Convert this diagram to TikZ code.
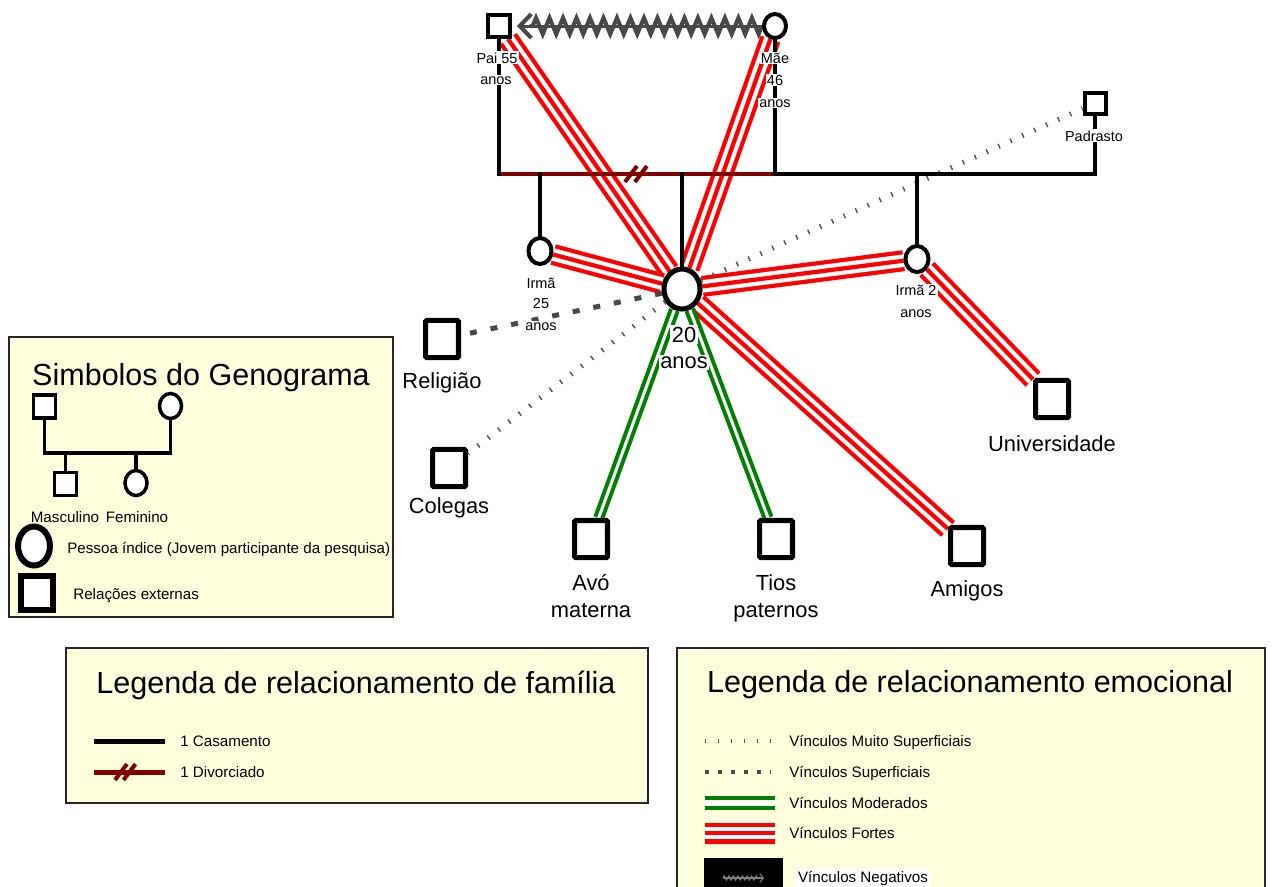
\documentclass[tikz,border=0pt]{standalone}
\usepackage{fontspec}
\setmainfont{Liberation Sans}
\usetikzlibrary{shapes.geometric,arrows.meta,decorations.pathmorphing}
\pgfdeclarelayer{bg}
\pgfdeclarelayer{links}
\pgfsetlayers{bg,links,main}
\definecolor{maroon}{RGB}{128,0,0}
\definecolor{mgreen}{RGB}{0,128,0}
\definecolor{negray}{RGB}{72,72,72}
\definecolor{dotgray}{RGB}{80,80,80}
\definecolor{cream}{RGB}{255,255,221}
\newcommand\ftitle{\fontsize{17.3}{20}\selectfont}
\newcommand\fext{\fontsize{12.4}{15}\selectfont}
\newcommand\fsmall{\fontsize{8.2}{10}\selectfont}
\newcommand\fleg{\fontsize{8.6}{10}\selectfont}
\begin{document}
\begin{tikzpicture}[x=0.567pt,y=-0.567pt,
  person/.style={draw, fill=white, inner sep=0pt, line width=2.27pt},
  male/.style={person, rectangle, minimum width=12.47pt, minimum height=12.47pt},
  female/.style={person, ellipse, minimum width=12.47pt, minimum height=13.6pt},
  sister/.style={person, ellipse, minimum width=13.04pt, minimum height=14.74pt},
  idxnode/.style={person, ellipse, line width=2.84pt, minimum width=20.4pt, minimum height=22.7pt},
  ext/.style={person, rectangle, line width=2.84pt, rounded corners=0.6pt, minimum width=18.7pt, minimum height=21pt},
  lbl/.style={font=\fsmall, fill=white, inner sep=0.6pt, anchor=base},
  extlbl/.style={font=\fext, anchor=base, inner sep=0.8pt},
  legtxt/.style={font=\fleg, anchor=base west, inner sep=0pt},
  legbox/.style={fill=cream, draw=black!85, line width=0.8pt},
  strong/.style={draw=red, line width=11.9pt,
    postaction={draw=white, line width=7.1pt},
    postaction={draw=red, line width=2.4pt}},
  moderate/.style={draw=mgreen, line width=2.27pt, double=white, double distance=1.7pt},
  superf/.style={draw=negray, line width=2.84pt, dash pattern=on 3.97pt off 7.94pt},
  vsuperf/.style={draw=dotgray, line width=2.84pt, dash pattern=on 0.8pt off 6.6pt},
  fam/.style={draw=black, line width=1.98pt, line cap=rect},
  divorce/.style={draw=maroon, line width=2.27pt},
  divhash/.style={draw=maroon, line width=2.27pt},
  negline/.style={draw=negray, line width=1.7pt,
    -{Straight Barb[length=6.5pt, width=13.6pt, line width=2.3pt]}},
  negzig/.style={draw=negray, line width=2.3pt, decorate,
    decoration={zigzag, amplitude=4.6pt, segment length=7.65pt}},
  lmale/.style={person, rectangle, line width=1.98pt, minimum width=12.2pt, minimum height=13.3pt},
  lfemale/.style={person, ellipse, line width=1.98pt, minimum width=12.5pt, minimum height=14.2pt},
  lfam/.style={draw=black, line width=2.1pt, line cap=rect}
]
\useasboundingbox (0,0) rectangle (1272,886);
\begin{pgfonlayer}{bg}
  \fill[white] (0,0) rectangle (1272,886);
\end{pgfonlayer}

% ---------- legend boxes ----------
\draw[legbox] (9,337) rectangle (393,617);
\draw[legbox] (66,648) rectangle (648,803);
\draw[legbox] (677,648) rectangle (1265,895);
\node[anchor=base, font=\ftitle] (symtitle) at (201,385) {Simbolos do Genograma};
\node[anchor=base, font=\ftitle] (famtitle) at (356,693) {Legenda de relacionamento de família};
\node[anchor=base, font=\ftitle] (emotitle) at (970,692) {Legenda de relacionamento emocional};

% ---------- genogram persons ----------
\node[male] (pai) at (499,26) {};
\node[female] (mae) at (775,26) {};
\node[male, minimum width=11.9pt, minimum height=11.9pt] (padr) at (1095,103) {};
\node[sister] (irma25) at (540,251) {};
\node[sister] (irma2) at (917,259) {};
\node[idxnode] (idx) at (682,289) {};
\node[ext] (relig) at (442,339) {};
\node[ext] (coleg) at (449,468) {};
\node[ext] (avo) at (591,539) {};
\node[ext] (tios) at (776,539) {};
\node[ext] (amigos) at (967,546) {};
\node[ext] (univ) at (1052,399) {};

\coordinate (mpai) at (499,174);
\coordinate (mmae) at (775,174);
\coordinate (mpad) at (1095,174);
\coordinate (negtip) at (517,26);
\coordinate (negend) at (530,26);

\begin{pgfonlayer}{links}
  % emotional bonds
  \draw[strong] (idx) -- (pai);
  \draw[strong] (idx) -- (mae);
  \draw[strong] (idx) -- (irma25);
  \draw[strong] (idx) -- (irma2);
  \draw[strong] (idx) -- (amigos);
  \draw[strong] (irma2) -- (univ);
  \draw[moderate] (idx) -- (avo);
  \draw[moderate] (idx) -- (tios);
  \draw[superf] (idx) -- (relig);
  \draw[vsuperf] (idx) -- (coleg);
  \draw[vsuperf] (idx) -- (padr);
  \draw[negline] (mae) -- (negtip);
  \draw[negzig] (mae.west) -- (negend);
  % family lines
  \draw[divorce] (mpai) -- (mmae);
  \path (mpai) -- (mmae) coordinate[pos=0.478] (cut1) coordinate[pos=0.514] (cut2);
  \draw[divhash] ([shift={(-6,8)}]cut1) -- ([shift={(6,-8)}]cut1);
  \draw[divhash] ([shift={(-6,8)}]cut2) -- ([shift={(6,-8)}]cut2);
  \draw[fam] (pai) -- (mpai);
  \draw[fam] (mae) -- (mmae);
  \draw[fam] (mmae) -- (mpad) -- (padr);
  \draw[fam] (irma25) -- (irma25 |- mpai);
  \draw[fam] (idx) -- (idx |- mpai);
  \draw[fam] (irma2) -- (irma2 |- mpai);
\end{pgfonlayer}

% ---------- person labels ----------
\node[lbl] (paiA) at (497,63) {Pai 55};
\node[lbl] (paiB) at (496,84) {anos};
\node[lbl] (maeA) at (775,63) {Mãe};
\node[lbl] (maeB) at (775,85) {46};
\node[lbl] (maeC) at (775,107) {anos};
\node[lbl] (padrA) at (1094,141) {Padrasto};
\node[lbl] (irA) at (541,288) {Irmã};
\node[lbl] (irB) at (541,308) {25};
\node[lbl] (irC) at (541,330) {anos};
\node[lbl] (ir2A) at (916,295) {Irmã 2};
\node[lbl] (ir2B) at (916,317) {anos};
\node[extlbl, fill=white] (idxA) at (684,342) {20};
\node[extlbl, fill=white] (idxB) at (684,368) {anos};
\node[extlbl] (religA) at (442,388) {Religião};
\node[extlbl] (colegA) at (449,513) {Colegas};
\node[extlbl] (avoA) at (591,590) {Avó};
\node[extlbl] (avoB) at (591,617) {materna};
\node[extlbl] (tiosA) at (776,590) {Tios};
\node[extlbl] (tiosB) at (776,617) {paternos};
\node[extlbl] (amigosA) at (967,596) {Amigos};
\node[extlbl] (univA) at (1052,451) {Universidade};

% ---------- symbol legend ----------
\node[lmale] (lm) at (44.5,406.5) {};
\node[lfemale] (lf) at (170.5,406) {};
\node[lmale] (lson) at (65.5,484) {};
\node[lfemale] (ldau) at (136,483) {};
\coordinate (lj1) at (44.5,453);
\coordinate (lj2) at (170.5,453);
\draw[lfam] (lm) -- (lj1) -- (lj2) -- (lf);
\draw[lfam] (lson) -- (lson |- lj1);
\draw[lfam] (ldau) -- (ldau |- lj1);
\node[anchor=base, font=\fleg] (lmasc) at (65,522) {Masculino};
\node[anchor=base, font=\fleg] (lfem) at (137,522) {Feminino};
\node[person, ellipse, line width=3.4pt, minimum width=18.1pt, minimum height=22.1pt] (lidx) at (34,546) {};
\node[legtxt] (lidxtxt) at (67,553) {Pessoa índice (Jovem participante da pesquisa)};
\node[person, rectangle, line width=3.4pt, minimum width=17.6pt, minimum height=19.3pt] (lext) at (37,593) {};
\node[legtxt] (lexttxt) at (73,599) {Relações externas};

% ---------- family legend ----------
\coordinate (fa1) at (94,741);
\coordinate (fa2) at (165,741);
\draw[draw=black, line width=2.84pt] (fa1) -- (fa2);
\node[legtxt] (casam) at (180,746) {1 Casamento};
\coordinate (fb1) at (94,772);
\coordinate (fb2) at (165,772);
\draw[divorce, line width=2.84pt] (fb1) -- (fb2);
\path (fb1) -- (fb2) coordinate[pos=0.38] (fc1) coordinate[pos=0.5] (fc2);
\draw[divhash] ([shift={(-6,8)}]fc1) -- ([shift={(6,-8)}]fc1);
\draw[divhash] ([shift={(-6,8)}]fc2) -- ([shift={(6,-8)}]fc2);
\node[legtxt] (divtxt) at (180,777) {1 Divorciado};

% ---------- emotional legend ----------
\coordinate (e1a) at (705,741);
\coordinate (e1b) at (771,741);
\draw[draw=dotgray, line width=2.27pt, dash pattern=on 0.8pt off 6.57pt] (e1a) -- (e1b);
\node[legtxt] (e1t) at (789,746) {Vínculos Muito Superficiais};
\coordinate (e2a) at (705,772);
\coordinate (e2b) at (771,772);
\draw[draw=negray, line width=2.27pt, dash pattern=on 2.27pt off 5.1pt] (e2a) -- (e2b);
\node[legtxt] (e2t) at (789,777) {Vínculos Superficiais};
\coordinate (e3a) at (705,803);
\coordinate (e3b) at (775,803);
\draw[moderate, double distance=3.4pt] (e3a) -- (e3b);
\node[legtxt] (e3t) at (789,808) {Vínculos Moderados};
\coordinate (e4a) at (705,833);
\coordinate (e4b) at (775,833);
\draw[strong] (e4a) -- (e4b);
\node[legtxt] (e4t) at (789,838) {Vínculos Fortes};
\fill[black] (704,858) rectangle (783,895);
\coordinate (nz1) at (723,878);
\coordinate (nz2) at (758,878);
\coordinate (nz3) at (764,878);
\draw[draw=gray, line width=0.6pt, decorate, decoration={zigzag, amplitude=1.2pt, segment length=2.6pt}] (nz1) -- (nz2);
\draw[draw=gray, line width=0.6pt, -{Straight Barb[length=2pt, width=5pt]}] (nz1) -- (nz3);
\node[legtxt, fill=white, inner sep=1pt] (e5t) at (796,882) {Vínculos Negativos};
\end{tikzpicture}
\end{document}
